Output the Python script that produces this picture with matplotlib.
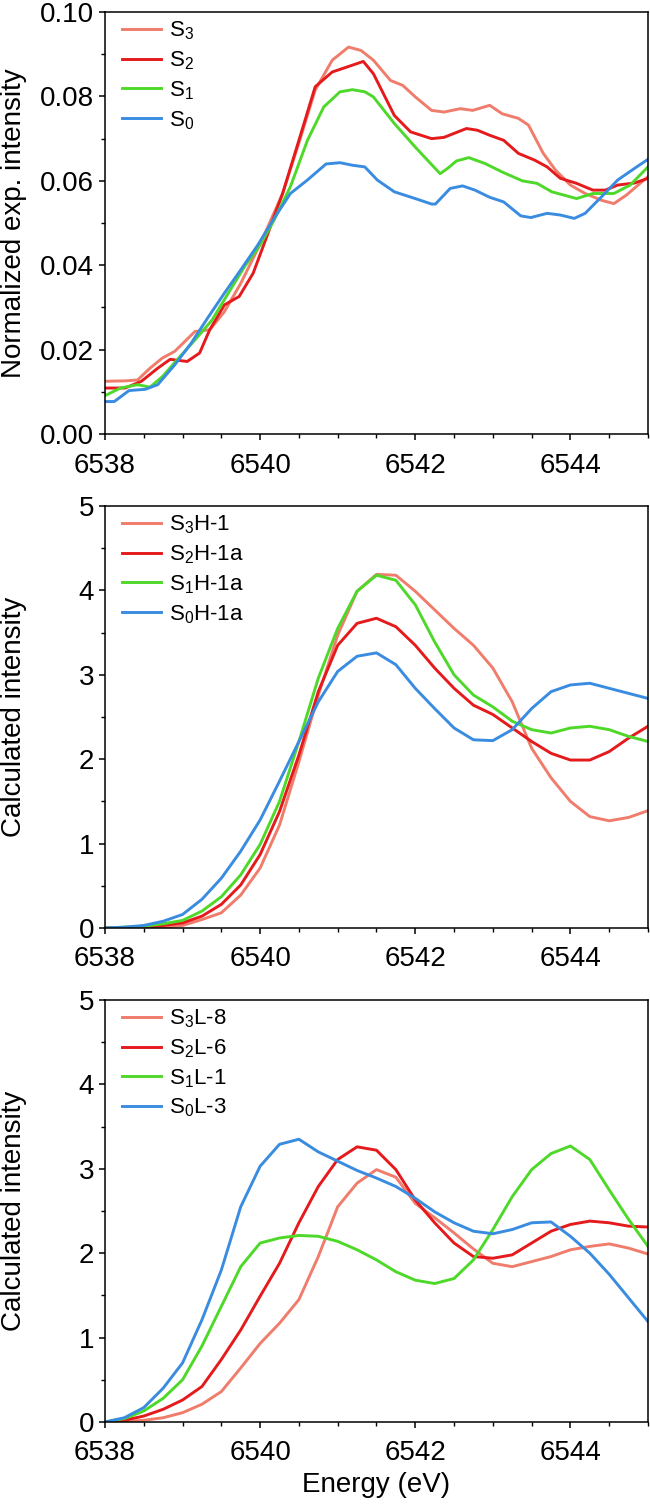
import matplotlib
matplotlib.use("Agg")
import matplotlib.pyplot as plt
from matplotlib.ticker import MultipleLocator, FormatStrFormatter

plt.rcParams['font.family'] = ['Liberation Sans', 'DejaVu Sans']
plt.rcParams['mathtext.fontset'] = 'custom'
plt.rcParams['mathtext.rm'] = 'Liberation Sans'
plt.rcParams['mathtext.it'] = 'Liberation Sans'
plt.rcParams['mathtext.default'] = 'regular'

C_S3 = '#F07C6C'
C_S2 = '#E41A1C'
C_S1 = '#4ED92A'
C_S0 = '#3A8CE0'

# ---------------- Panel 1: experimental ----------------
e1_s3 = [6538.0, 6538.26, 6538.42, 6538.58, 6538.74, 6538.9, 6539.16, 6539.35, 6539.54, 6539.75, 6540.0,
         6540.29, 6540.5, 6540.71, 6540.93, 6541.14, 6541.3, 6541.46, 6541.68, 6541.84, 6542.0, 6542.21,
         6542.37, 6542.58, 6542.74, 6542.96, 6543.12, 6543.33, 6543.46, 6543.65, 6543.81, 6544.0, 6544.19,
         6544.4, 6544.56, 6544.72, 6545.0]
v1_s3 = [0.0125, 0.0126, 0.0128, 0.0156, 0.0180, 0.0196, 0.0243, 0.0247, 0.0290, 0.0357, 0.0450,
         0.0570, 0.0690, 0.0815, 0.0886, 0.0917, 0.0909, 0.0886, 0.0838, 0.0826, 0.0799, 0.0767,
         0.0763, 0.0771, 0.0767, 0.0779, 0.0759, 0.0748, 0.0732, 0.0665, 0.0625, 0.0590, 0.0570,
         0.0554, 0.0546, 0.0566, 0.0610]

e1_s2 = [6538.0, 6538.26, 6538.47, 6538.68, 6538.84, 6539.06, 6539.22, 6539.35, 6539.54, 6539.73, 6539.91,
         6540.07, 6540.29, 6540.5, 6540.71, 6540.93, 6541.14, 6541.33, 6541.46, 6541.73, 6541.94, 6542.21,
         6542.37, 6542.66, 6542.8, 6542.96, 6543.14, 6543.33, 6543.54, 6543.7, 6543.87, 6544.08, 6544.29,
         6544.45, 6544.61, 6544.83, 6545.0]
v1_s2 = [0.0109, 0.0109, 0.0125, 0.0156, 0.0177, 0.0172, 0.0192, 0.0247, 0.0306, 0.0326, 0.0381,
         0.0460, 0.0570, 0.0696, 0.0823, 0.0858, 0.0871, 0.0883, 0.0854, 0.0755, 0.0716, 0.0700,
         0.0703, 0.0724, 0.0720, 0.0708, 0.0696, 0.0665, 0.0649, 0.0633, 0.0606, 0.0594, 0.0578,
         0.0578, 0.0590, 0.0595, 0.0606]

e1_s1 = [6538.0, 6538.2, 6538.42, 6538.58, 6538.74, 6538.95, 6539.16, 6539.38, 6539.59, 6539.8, 6540.0,
         6540.18, 6540.39, 6540.61, 6540.82, 6541.03, 6541.19, 6541.35, 6541.46, 6541.73, 6542.0, 6542.32,
         6542.42, 6542.53, 6542.69, 6542.9, 6543.12, 6543.38, 6543.57, 6543.76, 6544.08, 6544.29, 6544.56,
         6544.77, 6545.0]
v1_s1 = [0.0091, 0.0109, 0.0117, 0.0111, 0.0136, 0.0180, 0.0223, 0.0270, 0.0334, 0.0397, 0.0448,
         0.0507, 0.0586, 0.0696, 0.0775, 0.0811, 0.0816, 0.0811, 0.0799, 0.0736, 0.0680, 0.0617,
         0.0630, 0.0647, 0.0655, 0.0641, 0.0621, 0.0600, 0.0594, 0.0574, 0.0558, 0.0570, 0.0570,
         0.0590, 0.0633]

e1_s0 = [6538.0, 6538.12, 6538.31, 6538.52, 6538.68, 6538.9, 6539.11, 6539.32, 6539.54, 6539.75, 6539.97,
         6540.18, 6540.39, 6540.61, 6540.85, 6541.03, 6541.19, 6541.35, 6541.51, 6541.73, 6542.0, 6542.21,
         6542.26, 6542.45, 6542.61, 6542.77, 6542.96, 6543.14, 6543.36, 6543.49, 6543.7, 6543.87, 6544.05,
         6544.19, 6544.4, 6544.61, 6544.83, 6545.0]
v1_s0 = [0.0077, 0.0077, 0.0103, 0.0106, 0.0117, 0.0164, 0.0215, 0.0274, 0.0334, 0.0389, 0.0448,
         0.0511, 0.0570, 0.0602, 0.0640, 0.0643, 0.0637, 0.0633, 0.0602, 0.0574, 0.0558, 0.0545,
         0.0545, 0.0582, 0.0588, 0.0578, 0.0561, 0.0550, 0.0517, 0.0513, 0.0523, 0.0519, 0.0511,
         0.0523, 0.0562, 0.0602, 0.0630, 0.0651]

labels1 = [r'S$_3$', r'S$_2$', r'S$_1$', r'S$_0$']

# ---------------- Panel 2: calculated H ----------------
e2 = [6538.0, 6538.25, 6538.5, 6538.75, 6539.0, 6539.25, 6539.5, 6539.75, 6540.0, 6540.25, 6540.5,
      6540.75, 6541.0, 6541.25, 6541.5, 6541.75, 6542.0, 6542.25, 6542.5, 6542.75, 6543.0, 6543.25,
      6543.5, 6543.75, 6544.0, 6544.25, 6544.5, 6544.75, 6545.0]
v2_s3 = [0.0, 0.0, 0.005, 0.01, 0.03, 0.10, 0.18, 0.39, 0.71, 1.22, 1.97,
         2.76, 3.47, 3.99, 4.19, 4.18, 3.99, 3.77, 3.55, 3.35, 3.08, 2.68,
         2.13, 1.78, 1.50, 1.32, 1.27, 1.31, 1.39]
v2_s2 = [0.0, 0.005, 0.01, 0.03, 0.06, 0.14, 0.28, 0.51, 0.87, 1.38, 2.05,
         2.80, 3.35, 3.61, 3.67, 3.57, 3.35, 3.08, 2.84, 2.64, 2.53, 2.37,
         2.21, 2.07, 1.99, 1.99, 2.09, 2.25, 2.39]
v2_s1 = [0.0, 0.01, 0.02, 0.05, 0.09, 0.20, 0.37, 0.63, 0.99, 1.50, 2.21,
         2.96, 3.55, 3.99, 4.18, 4.12, 3.83, 3.39, 3.00, 2.76, 2.62, 2.45,
         2.35, 2.31, 2.37, 2.39, 2.35, 2.27, 2.21]
v2_s0 = [0.0, 0.01, 0.03, 0.08, 0.16, 0.34, 0.59, 0.91, 1.28, 1.74, 2.21,
         2.68, 3.04, 3.22, 3.26, 3.12, 2.84, 2.60, 2.37, 2.23, 2.22, 2.35,
         2.60, 2.80, 2.88, 2.90, 2.84, 2.78, 2.72]
labels2 = [r'S$_3$H-1', r'S$_2$H-1a', r'S$_1$H-1a', r'S$_0$H-1a']

# ---------------- Panel 3: calculated L ----------------
e3 = e2
v3_s3 = [0.0, 0.005, 0.02, 0.05, 0.11, 0.21, 0.36, 0.64, 0.93, 1.17, 1.45,
         1.96, 2.55, 2.83, 2.99, 2.90, 2.59, 2.42, 2.24, 2.05, 1.88, 1.84,
         1.90, 1.96, 2.04, 2.08, 2.11, 2.06, 1.99]
v3_s2 = [0.0, 0.02, 0.07, 0.15, 0.26, 0.42, 0.74, 1.09, 1.49, 1.88, 2.36,
         2.79, 3.11, 3.26, 3.22, 2.99, 2.63, 2.36, 2.12, 1.96, 1.94, 1.98,
         2.12, 2.26, 2.34, 2.38, 2.36, 2.32, 2.31]
v3_s1 = [0.0, 0.04, 0.13, 0.28, 0.50, 0.90, 1.37, 1.84, 2.12, 2.18, 2.21,
         2.20, 2.14, 2.04, 1.92, 1.78, 1.68, 1.64, 1.70, 1.92, 2.28, 2.67,
         2.99, 3.18, 3.27, 3.11, 2.75, 2.40, 2.08]
v3_s0 = [0.0, 0.05, 0.17, 0.40, 0.70, 1.21, 1.80, 2.55, 3.03, 3.29, 3.35,
         3.20, 3.09, 2.98, 2.89, 2.79, 2.65, 2.49, 2.36, 2.26, 2.23, 2.28,
         2.36, 2.37, 2.20, 2.00, 1.75, 1.47, 1.19]
labels3 = [r'S$_3$L-8', r'S$_2$L-6', r'S$_1$L-1', r'S$_0$L-3']

colors = [C_S3, C_S2, C_S1, C_S0]

fig = plt.figure(figsize=(6.5, 15.06), dpi=100)
W = 0.8354
L = 0.1615
H = 0.2802
axs = [fig.add_axes([L, 0.7118, W, H]),
       fig.add_axes([L, 0.3838, W, H]),
       fig.add_axes([L, 0.0558, W, H])]

panels = [
    ([(e1_s3, v1_s3), (e1_s2, v1_s2), (e1_s1, v1_s1), (e1_s0, v1_s0)], labels1,
     'Normalized exp. intensity', (0, 0.10), 0.02, 0.01, '%.2f'),
    ([(e2, v2_s3), (e2, v2_s2), (e2, v2_s1), (e2, v2_s0)], labels2,
     'Calculated intensity', (0, 5), 1, 0.5, '%d'),
    ([(e3, v3_s3), (e3, v3_s2), (e3, v3_s1), (e3, v3_s0)], labels3,
     'Calculated intensity', (0, 5), 1, 0.5, '%d'),
]

for ax, (series, labels, ylab, ylim, ymaj, ymin, fmt) in zip(axs, panels):
    for (x, y), c, lab in zip(series, colors, labels):
        ax.plot(x, y, color=c, lw=2.1, label=lab, solid_joinstyle='round')
    ax.set_xlim(6538, 6545)
    ax.set_ylim(*ylim)
    ax.xaxis.set_major_locator(MultipleLocator(2))
    ax.xaxis.set_minor_locator(MultipleLocator(0.5))
    ax.yaxis.set_major_locator(MultipleLocator(ymaj))
    ax.yaxis.set_minor_locator(MultipleLocator(ymin))
    ax.yaxis.set_major_formatter(FormatStrFormatter(fmt))
    ax.tick_params(axis='both', which='major', direction='out', length=4.3, width=1.1,
                   labelsize=20)
    ax.tick_params(axis='x', which='major', pad=9)
    ax.tick_params(axis='y', which='major', pad=3.5)
    ax.tick_params(axis='both', which='minor', direction='out', length=3, width=1.0)
    for s in ax.spines.values():
        s.set_linewidth(1.1)
    ax.set_ylabel(ylab, fontsize=20)
    ax.yaxis.set_label_coords(-0.1436, 0.5)
    ax.legend(loc='upper left', frameon=False, fontsize=16, handlelength=1.75,
              handletextpad=0.36, labelspacing=0.32, borderaxespad=0.0, borderpad=0.35,
              bbox_to_anchor=(0.017, 1.0))

axs[2].set_xlabel('Energy (eV)', fontsize=20, labelpad=4)

fig.savefig('out.png', dpi=100)
